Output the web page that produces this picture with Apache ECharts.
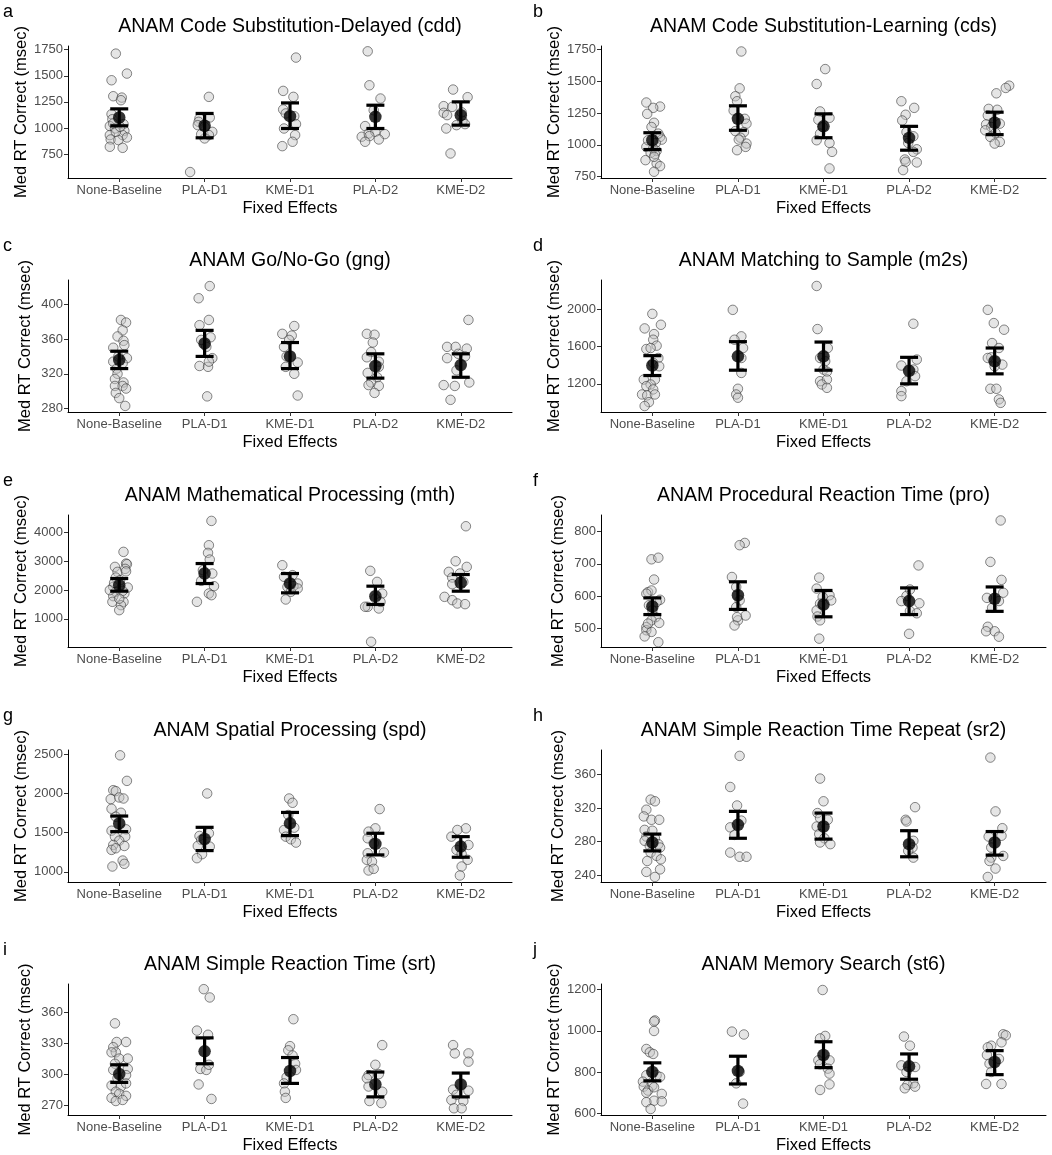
<!DOCTYPE html>
<html lang="en">
<head>
<meta charset="UTF-8">
<title>ANAM median RT by fixed effect</title>
<script src="https://cdn.jsdelivr.net/npm/echarts@6/dist/echarts.min.js"></script>
<style>
  html, body { margin: 0; padding: 0; background: #fff; }
  #chart { width: 1052px; height: 1155px; }
</style>
</head>
<body>
<div id="chart"></div>
<script>
// categories on the x axis of every panel
var categories = ['None-Baseline', 'PLA-D1', 'KME-D1', 'PLA-D2', 'KME-D2'];
var catPos = [1, 2, 3, 4, 5];

// ---- a: Code Substitution-Delayed (cdd) ----
var cddPoints = [
  [0.96,1712],[1.09,1521],[0.91,1457],[0.93,1304],[1.03,1291],[1.02,1266],[0.91,1132],[0.92,1084],[0.89,1018],[1.05,1037],[0.95,995],[1.06,973],[0.89,932],[1.04,932],[1.09,909],[0.90,890],[0.99,884],[0.89,820],[1.04,810],[0.96,963],[1.01,1011],[0.93,1043],
  [2.05,1298],[1.94,1091],[2.06,1100],[1.93,1059],[1.92,1027],[2.00,1011],[2.09,963],[2.05,932],[2.00,900],[1.96,940],[1.83,578],
  [3.07,1674],[2.92,1355],[3.04,1298],[2.92,1177],[2.95,1139],[3.05,1113],[3.07,1037],[2.93,995],[3.06,932],[3.03,868],[2.91,826],
  [3.91,1734],[3.93,1409],[4.06,1282],[3.98,1170],[3.88,1018],[3.92,947],[4.00,963],[4.11,941],[3.84,916],[3.93,922],[4.04,890],[3.88,868],
  [4.91,1368],[5.08,1295],[4.80,1209],[4.90,1202],[4.80,1145],[5.02,1069],[5.05,1037],[4.95,1027],[4.83,995],[4.88,756],[4.84,1123],[5.01,1150]
];
var cddMean = [1100, 1021, 1113, 1107, 1123];
var cddLower = [1021, 906, 995, 995, 1027];
var cddUpper = [1183, 1139, 1240, 1218, 1250];
var cddTicks = [750, 1000, 1250, 1500, 1750];

// ---- b: Code Substitution-Learning (cds) ----
var cdsPoints = [
  [0.93,1332],[1.09,1300],[1.01,1290],[0.94,1243],[1.02,1173],[0.99,1140],[1.09,1062],[1.11,1041],[1.04,1015],[0.93,984],[1.01,971],[1.05,953],[0.98,937],[1.03,927],[0.92,880],[1.05,854],[1.09,833],[1.02,789],[1.02,906],[0.95,1036],[1.07,1088],
  [2.04,1732],[2.02,1443],[1.97,1381],[1.99,1342],[1.95,1269],[2.08,1204],[2.10,1166],[1.97,1108],[2.07,1100],[2.03,1056],[2.10,1010],[2.01,1041],[1.99,958],[2.09,984],
  [2.92,1477],[3.02,1594],[2.96,1262],[2.94,1197],[3.07,1212],[2.99,1140],[2.96,1088],[2.92,1036],[3.07,1015],[3.10,945],[3.07,815],
  [3.91,1342],[4.06,1290],[3.96,1236],[3.92,1191],[3.97,1100],[4.05,1067],[3.99,1015],[4.09,965],[4.05,945],[3.95,885],[4.09,862],[3.96,867],[3.93,802],
  [5.17,1464],[5.13,1446],[5.02,1404],[4.93,1282],[5.03,1275],[4.92,1230],[4.90,1160],[5.06,1166],[4.96,1140],[4.89,1114],[5.01,1093],[4.95,1062],[5.06,1023],[5.00,1010]
];
var cdsMean = [1036, 1204, 1145, 1054, 1173];
var cdsLower = [963, 1114, 1056, 958, 1080];
var cdsUpper = [1095, 1306, 1243, 1145, 1256];
var cdsTicks = [750, 1000, 1250, 1500, 1750];

// ---- c: Go/No-Go (gng) ----
var gngPoints = [
  [1.02,382],[1.08,379],[1.04,370],[0.98,363],[1.05,358],[0.93,350],[1.06,353],[0.93,334],[0.99,340],[1.09,338],[1.04,332],[0.97,326],[0.98,320],[0.95,314],[1.05,310],[0.95,306],[1.04,306],[1.08,303],[0.96,298],[1.00,292],[1.07,283],
  [2.06,421],[1.93,407],[2.05,382],[1.94,376],[2.07,362],[1.96,359],[2.02,351],[2.09,338],[1.94,329],[2.04,328],[2.05,334],[2.03,294],
  [3.05,375],[2.91,366],[3.02,364],[2.99,359],[2.93,351],[2.96,340],[3.09,333],[2.95,328],[3.05,320],[3.09,295],
  [3.90,366],[3.99,365],[3.97,356],[3.95,345],[3.90,339],[4.04,334],[3.91,321],[4.04,328],[4.02,316],[3.95,310],[3.92,307],[4.04,306],[3.99,298],
  [5.09,382],[4.84,351],[4.94,351],[5.07,349],[4.97,343],[4.84,338],[5.05,340],[4.95,324],[5.10,310],[4.80,307],[4.93,306],[4.88,290]
];
var gngMean = [336, 355, 340, 329, 330];
var gngLower = [326, 340, 326, 315, 316];
var gngUpper = [346, 370, 356, 343, 343];
var gngTicks = [280, 320, 360, 400];

// ---- d: Matching to Sample (m2s) ----
var m2sPoints = [
  [1.00,1950],[1.10,1833],[0.91,1794],[1.02,1733],[1.01,1673],[0.93,1573],[1.05,1609],[0.98,1584],[1.07,1477],[1.01,1424],[1.08,1388],[0.90,1246],[1.03,1246],[0.98,1193],[0.93,1175],[1.01,1140],[0.88,1086],[0.94,1076],[1.03,1086],[0.96,1004],[0.91,962],
  [1.94,1993],[2.04,1709],[1.96,1673],[2.06,1584],[2.04,1477],[2.04,1317],[2.00,1147],[1.98,1086],[2.00,1051],
  [2.92,2249],[2.93,1787],[3.05,1584],[2.96,1477],[3.02,1442],[3.00,1353],[3.04,1330],[2.96,1228],[3.04,1246],[2.98,1193],[3.04,1157],
  [4.05,1844],[4.09,1460],[3.91,1396],[4.05,1353],[4.07,1282],[3.91,1122],[3.91,1068],[3.97,1228],
  [4.92,1993],[4.99,1851],[5.11,1780],[4.97,1637],[5.05,1584],[4.96,1484],[4.92,1477],[5.09,1406],[5.00,1388],[4.95,1147],[5.02,1147],[5.05,1033],[5.07,996]
];
var m2sMean = [1396, 1495, 1495, 1339, 1442];
var m2sLower = [1289, 1346, 1346, 1200, 1307];
var m2sUpper = [1502, 1652, 1648, 1484, 1584];
var m2sTicks = [1200, 1600, 2000];

// ---- e: Mathematical Processing (mth) ----
var mthPoints = [
  [1.05,3328],[0.95,2806],[1.08,2922],[0.98,2633],[0.96,2436],[1.01,2343],[0.93,2112],[1.10,2088],[0.96,1938],[1.06,1880],[0.93,1787],[0.92,1591],[1.05,1591],[1.02,1475],[1.00,1301],[1.09,2899],[1.07,2737],[0.89,1996],[1.04,1973],[0.94,2250],[1.08,2650],[1.00,1700],
  [2.08,4405],[2.05,3559],[2.04,3293],[2.06,3061],[2.09,2575],[1.98,2691],[2.11,2135],[2.05,1880],[2.08,1822],[1.91,1591],[1.96,2320],
  [2.91,2864],[3.03,2517],[3.09,2227],[3.04,2135],[2.97,2112],[3.09,2054],[2.95,1672],[2.93,2460],[3.01,1940],
  [3.94,2668],[4.02,2285],[4.08,1880],[4.00,1706],[3.91,1417],[4.04,1359],[4.06,1591],[3.95,201],[3.88,1420],
  [5.06,4219],[4.94,3003],[5.07,2806],[4.86,2633],[4.99,2575],[4.90,2436],[5.03,2285],[4.90,2204],[4.81,1764],[4.90,1649],[4.96,1533],[5.05,1510]
];
var mthMean = [2170, 2575, 2227, 1787, 2251];
var mthLower = [1961, 2227, 1903, 1498, 1961];
var mthUpper = [2401, 2922, 2575, 2135, 2540];
var mthTicks = [1000, 2000, 3000, 4000];

// ---- f: Procedural Reaction Time (pro) ----
var proPoints = [
  [0.99,714],[1.07,719],[1.02,651],[0.95,612],[0.99,617],[0.93,607],[1.09,588],[1.05,581],[0.96,571],[1.00,555],[1.04,534],[0.99,524],[1.08,516],[0.93,503],[0.93,493],[0.99,488],[0.91,474],[1.07,456],[0.95,514],
  [2.08,765],[2.02,758],[1.93,659],[1.98,628],[2.02,586],[1.98,565],[2.09,539],[2.00,524],[1.99,534],[1.96,508],
  [2.95,657],[2.92,623],[3.07,602],[2.99,597],[3.09,586],[2.96,576],[2.92,555],[2.93,536],[2.96,524],[2.95,467],
  [4.11,695],[4.01,620],[3.97,600],[4.12,577],[4.01,553],[4.00,482],[4.09,546],[3.91,584],
  [5.07,835],[4.95,706],[5.08,650],[4.91,594],[5.10,610],[5.05,584],[4.97,563],[4.92,504],[4.90,490],[5.00,490],[5.05,473]
];
var proMean = [567, 602, 573, 584, 591];
var proLower = [542, 558, 535, 542, 552];
var proUpper = [594, 644, 617, 625, 628];
var proTicks = [500, 600, 700, 800];

// ---- g: Spatial Processing (spd) ----
var spdPoints = [
  [1.01,2487],[1.09,2161],[0.93,2042],[0.96,2030],[0.90,1928],[1.00,1949],[1.05,1936],[0.91,1805],[1.02,1754],[0.96,1703],[0.91,1525],[1.08,1542],[0.95,1449],[1.07,1449],[1.00,1398],[0.93,1343],[1.06,1330],[0.91,1280],[0.96,1301],[1.04,1144],[1.06,1102],[0.92,1068],
  [2.03,2000],[1.94,1458],[2.05,1492],[1.96,1407],[1.92,1330],[2.06,1322],[1.97,1225],[1.91,1174],
  [2.99,1936],[3.03,1881],[2.98,1725],[3.05,1564],[2.93,1534],[2.95,1449],[3.01,1415],[3.07,1373],
  [4.05,1801],[4.00,1555],[3.92,1513],[3.91,1428],[3.98,1364],[4.10,1246],[3.91,1237],[3.90,1153],[3.96,1131],[3.92,1017],[3.98,1038],
  [5.06,1555],[4.96,1534],[4.89,1449],[5.09,1343],[4.95,1280],[5.01,1229],[5.08,1153],[5.01,1068],[4.99,953]
];
var spdMean = [1618, 1419, 1619, 1356, 1322];
var spdLower = [1513, 1271, 1462, 1216, 1186];
var spdUpper = [1712, 1568, 1758, 1492, 1449];
var spdTicks = [1000, 1500, 2000, 2500];

// ---- h: Simple Reaction Time Repeat (sr2) ----
var sr2Points = [
  [0.98,330],[1.03,328],[0.93,318],[0.90,310],[0.99,306],[1.08,306],[0.91,294],[1.00,293],[0.93,286],[1.03,284],[0.91,281],[1.07,277],[0.97,275],[1.09,273],[0.98,267],[1.05,263],[0.94,257],[1.10,259],[0.93,244],[1.09,247],[1.03,238],
  [2.02,382],[1.91,345],[1.99,323],[1.91,297],[2.04,305],[1.96,288],[1.91,267],[2.02,262],[2.10,262],
  [2.96,355],[3.00,328],[2.93,314],[2.96,308],[3.05,306],[2.92,298],[2.95,289],[3.01,284],[2.96,279],[3.08,277],
  [4.07,321],[3.96,306],[4.05,281],[4.04,273],[3.99,269],[4.05,261],[3.97,304],
  [4.95,380],[5.01,316],[5.09,296],[4.93,286],[5.08,287],[4.96,273],[5.10,263],[4.96,261],[4.94,257],[5.01,248],[4.92,238]
];
var sr2Mean = [279, 300, 298, 277, 279];
var sr2Lower = [269, 284, 283, 262, 264];
var sr2Upper = [289, 316, 314, 293, 292];
var sr2Ticks = [240, 280, 320, 360];

// ---- i: Simple Reaction Time (srt) ----
var srtPoints = [
  [0.95,349],[0.97,331],[1.08,331],[0.93,326],[0.96,321],[0.91,321],[1.00,315],[1.10,315],[0.95,310],[1.10,305],[0.93,304],[1.08,299],[0.98,296],[0.91,289],[1.02,288],[1.08,291],[0.96,283],[1.00,281],[1.08,279],[0.91,277],[0.96,274],[1.04,275],
  [1.99,382],[2.06,374],[1.91,342],[2.04,338],[1.95,305],[2.02,304],[2.05,309],[1.93,290],[2.08,276],
  [3.04,353],[3.00,327],[2.98,323],[3.03,318],[3.06,310],[3.07,304],[2.96,297],[2.93,291],[2.94,283],[2.95,277],
  [4.08,328],[4.00,309],[3.92,299],[3.92,288],[4.08,283],[3.93,274],[4.07,272],[3.90,296],[4.04,300],
  [4.91,328],[4.93,320],[5.09,320],[5.09,312],[4.91,285],[5.09,284],[4.95,280],[4.89,275],[5.03,274],[4.92,267],[5.01,267]
];
var srtMean = [300, 322, 303, 290, 290];
var srtLower = [292, 310, 291, 278, 278];
var srtUpper = [309, 335, 316, 302, 301];
var srtTicks = [270, 300, 330, 360];

// ---- j: Memory Search (st6) ----
var st6Points = [
  [1.03,1050],[1.02,1045],[1.02,999],[0.93,912],[0.97,896],[1.01,888],[1.05,785],[1.09,777],[0.93,785],[0.89,754],[1.00,735],[0.90,730],[0.95,711],[1.02,727],[1.11,695],[0.93,701],[1.02,662],[1.11,659],[0.93,655],[0.98,622],
  [1.93,996],[2.07,982],[2.02,801],[1.98,746],[2.06,648],
  [2.99,1197],[3.02,975],[2.96,963],[2.94,857],[3.07,857],[3.05,817],[2.96,838],[3.07,793],[3.07,741],[2.96,714],
  [3.94,972],[4.01,928],[3.91,833],[4.07,825],[3.97,801],[4.05,746],[3.98,738],[3.95,722],[4.07,730],
  [5.10,983],[5.13,978],[5.08,944],[4.96,928],[4.92,920],[4.91,883],[4.94,841],[5.05,864],[4.96,801],[4.90,743],[5.08,743]
];
var st6Mean = [801, 806, 883, 828, 849];
var st6Lower = [758, 743, 822, 766, 788];
var st6Upper = [845, 877, 947, 888, 904];
var st6Ticks = [600, 800, 1000, 1200];

var panels = [
  { tag: 'a', title: 'ANAM Code Substitution-Delayed (cdd)', pts: cddPoints, mean: cddMean, lo: cddLower, hi: cddUpper, ticks: cddTicks, min: 521, max: 1785 },
  { tag: 'b', title: 'ANAM Code Substitution-Learning (cds)', pts: cdsPoints, mean: cdsMean, lo: cdsLower, hi: cdsUpper, ticks: cdsTicks, min: 740, max: 1775 },
  { tag: 'c', title: 'ANAM Go/No-Go (gng)', pts: gngPoints, mean: gngMean, lo: gngLower, hi: gngUpper, ticks: gngTicks, min: 276, max: 428 },
  { tag: 'd', title: 'ANAM Matching to Sample (m2s)', pts: m2sPoints, mean: m2sMean, lo: m2sLower, hi: m2sUpper, ticks: m2sTicks, min: 898, max: 2313 },
  { tag: 'e', title: 'ANAM Mathematical Processing (mth)', pts: mthPoints, mean: mthMean, lo: mthLower, hi: mthUpper, ticks: mthTicks, min: 20, max: 4610 },
  { tag: 'f', title: 'ANAM Procedural Reaction Time (pro)', pts: proPoints, mean: proMean, lo: proLower, hi: proUpper, ticks: proTicks, min: 441, max: 852 },
  { tag: 'g', title: 'ANAM Spatial Processing (spd)', pts: spdPoints, mean: spdMean, lo: spdLower, hi: spdUpper, ticks: spdTicks, min: 870, max: 2555 },
  { tag: 'h', title: 'ANAM Simple Reaction Time Repeat (sr2)', pts: sr2Points, mean: sr2Mean, lo: sr2Lower, hi: sr2Upper, ticks: sr2Ticks, min: 232, max: 389 },
  { tag: 'i', title: 'ANAM Simple Reaction Time (srt)', pts: srtPoints, mean: srtMean, lo: srtLower, hi: srtUpper, ticks: srtTicks, min: 260.5, max: 387 },
  { tag: 'j', title: 'ANAM Memory Search (st6)', pts: st6Points, mean: st6Mean, lo: st6Lower, hi: st6Upper, ticks: st6Ticks, min: 593, max: 1226 }
];

var FONT = '"Liberation Sans", Arial, Helvetica, sans-serif';
var rowTop = [46, 280, 515, 750, 984];
var plotH = 132;
var colLeft = [68, 601];
var colW = [444, 445];

var grids = [], xAxes = [], yAxes = [], titles = [], series = [];

panels.forEach(function (p, i) {
  var col = i % 2, row = Math.floor(i / 2);
  var left = colLeft[col], top = rowTop[row], w = colW[col];
  grids.push({ left: left, top: top, width: w, height: plotH });

  titles.push({
    text: p.title, left: left + w / 2, top: top - 29, textAlign: 'center', padding: 0,
    textStyle: { fontFamily: FONT, fontSize: 19.5, fontWeight: 'normal', color: '#000' }
  });
  titles.push({
    text: p.tag, left: col === 0 ? 3 : 533, top: top - 43, padding: 0,
    textStyle: { fontFamily: FONT, fontSize: 18, fontWeight: 'normal', color: '#000' }
  });

  xAxes.push({
    gridIndex: i, type: 'value', min: 0.4, max: 5.6,
    name: 'Fixed Effects', nameLocation: 'middle', nameGap: 22,
    nameTextStyle: { fontFamily: FONT, fontSize: 16.5, color: '#000' },
    axisLine: { lineStyle: { color: '#000', width: 1 } },
    axisTick: { show: true, length: 4, customValues: catPos, lineStyle: { color: '#333' } },
    axisLabel: {
      customValues: catPos, margin: 6, fontFamily: FONT, fontSize: 13, color: '#4D4D4D',
      formatter: function (v) { return categories[Math.round(v) - 1] || ''; }
    },
    splitLine: { show: false }
  });

  yAxes.push({
    gridIndex: i, type: 'value', min: p.min, max: p.max,
    name: 'Med RT Correct (msec)', nameLocation: 'middle', nameGap: 34,
    nameTextStyle: { fontFamily: FONT, fontSize: 16.5, color: '#000' },
    axisLine: { show: true, lineStyle: { color: '#000', width: 1 } },
    axisTick: { show: true, length: 4, customValues: p.ticks, lineStyle: { color: '#333' } },
    axisLabel: {
      customValues: p.ticks, margin: 5, fontFamily: FONT, fontSize: 13, color: '#4D4D4D',
      formatter: function (v) { return String(v); }
    },
    splitLine: { show: false }
  });

  series.push({
    type: 'scatter', xAxisIndex: i, yAxisIndex: i, data: p.pts, symbolSize: 9.5,
    itemStyle: { color: 'rgba(195,195,195,0.55)', borderColor: 'rgba(45,45,45,0.7)', borderWidth: 1 },
    silent: true, z: 2
  });

  var bars = catPos.map(function (c, k) { return [c, p.lo[k], p.hi[k]]; });
  series.push({
    type: 'custom', xAxisIndex: i, yAxisIndex: i, data: bars, z: 3, silent: true,
    encode: { x: 0, y: [1, 2] },
    renderItem: function (params, api) {
      var x = api.value(0);
      var a = api.coord([x, api.value(1)]);
      var b = api.coord([x, api.value(2)]);
      var hw = 9;
      var st = { stroke: '#000', lineWidth: 3.2 };
      return {
        type: 'group',
        children: [
          { type: 'line', shape: { x1: a[0], y1: a[1], x2: b[0], y2: b[1] }, style: st },
          { type: 'line', shape: { x1: a[0] - hw, y1: a[1], x2: a[0] + hw, y2: a[1] }, style: st },
          { type: 'line', shape: { x1: b[0] - hw, y1: b[1], x2: b[0] + hw, y2: b[1] }, style: st }
        ]
      };
    }
  });

  series.push({
    type: 'scatter', xAxisIndex: i, yAxisIndex: i, z: 4, silent: true,
    data: catPos.map(function (c, k) { return [c, p.mean[k]]; }),
    symbolSize: 12.5, itemStyle: { color: '#000' }
  });
});

var chart = echarts.init(document.getElementById('chart'));
chart.setOption({
  backgroundColor: '#fff',
  animation: false,
  title: titles,
  grid: grids,
  xAxis: xAxes,
  yAxis: yAxes,
  series: series
});
</script>
</body>
</html>
